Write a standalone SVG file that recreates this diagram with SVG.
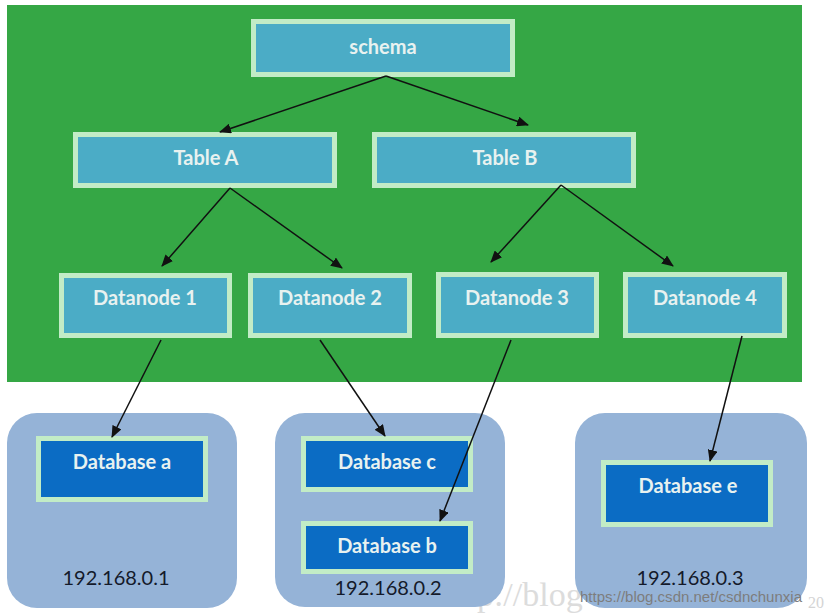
<svg xmlns="http://www.w3.org/2000/svg" width="825" height="615" viewBox="0 0 825 615">
<defs>
<style>
.top{fill:#4bacc6;stroke:#c2ecc6;stroke-width:5}
.db{fill:#0b6cc4;stroke:#c2ecc6;stroke-width:5}
.grp{fill:#95b3d7}
.lbl{font-family:Lato,"Open Sans","Liberation Sans",sans-serif;font-weight:bold;font-size:20px;fill:#e8f2f0;text-anchor:middle}
.ip{font-family:Lato,"Open Sans","Liberation Sans",sans-serif;font-size:20px;fill:#141a2a;text-anchor:middle}
.conn line{stroke:#111;stroke-width:1.5;marker-end:url(#ah)}
</style>
<marker id="ah" viewBox="0 0 12 10" refX="11" refY="5" markerWidth="12" markerHeight="10" markerUnits="userSpaceOnUse" orient="auto">
<path d="M0,0 L12,5 L0,10 z" fill="#111"/>
</marker>
</defs>
<rect width="825" height="615" fill="#ffffff"/>
<text x="441" y="606" font-family="'Liberation Serif',serif" font-size="34" fill="#dcdcdc">http://blog</text>
<text x="808" y="608" font-family="'Liberation Serif',serif" font-size="16" fill="#d4d4d4">20</text>
<rect x="7" y="5" width="795" height="377" fill="#35a745"/>
<g id="group1"><rect class="grp" x="7" y="413" width="230" height="195" rx="30"/><text class="ip" x="116" y="585">192.168.0.1</text></g>
<g id="group2"><rect class="grp" x="275" y="413" width="230" height="194" rx="30"/><text class="ip" x="388" y="595">192.168.0.2</text></g>
<g id="group3"><rect class="grp" x="575" y="413" width="232" height="195" rx="30"/><text class="ip" x="690" y="585">192.168.0.3</text></g>
<g id="schema"><rect class="top" x="253.5" y="21.5" width="259" height="53"/><text class="lbl" x="383" y="54">schema</text></g>
<g id="tableA"><rect class="top" x="75.5" y="134.5" width="259" height="51"/><text class="lbl" x="206" y="165">Table A</text></g>
<g id="tableB"><rect class="top" x="374.5" y="134.5" width="259" height="51"/><text class="lbl" x="505" y="165">Table B</text></g>
<g id="datanode1"><rect class="top" x="61.5" y="275.5" width="168" height="60"/><text class="lbl" x="145" y="305">Datanode 1</text></g>
<g id="datanode2"><rect class="top" x="250.5" y="275.5" width="159" height="60"/><text class="lbl" x="330" y="305">Datanode 2</text></g>
<g id="datanode3"><rect class="top" x="438.5" y="274.5" width="158" height="61"/><text class="lbl" x="517" y="305">Datanode 3</text></g>
<g id="datanode4"><rect class="top" x="625.5" y="274.5" width="159" height="61"/><text class="lbl" x="705" y="305">Datanode 4</text></g>
<g id="databaseA"><rect class="db" x="38.5" y="438.5" width="167" height="61"/><text class="lbl" x="122" y="469">Database a</text></g>
<g id="databaseC"><rect class="db" x="303.5" y="438.5" width="167" height="51"/><text class="lbl" x="387" y="469">Database c</text></g>
<g id="databaseB"><rect class="db" x="303.5" y="523.5" width="167" height="48"/><text class="lbl" x="387" y="553">Database b</text></g>
<g id="databaseE"><rect class="db" x="603.5" y="462.5" width="167" height="62"/><text class="lbl" x="688" y="493">Database e</text></g>
<g id="connectors" class="conn">
<line x1="386" y1="76" x2="220" y2="132"/>
<line x1="386" y1="76" x2="528" y2="125"/>
<line x1="230" y1="188" x2="162" y2="266"/>
<line x1="230" y1="188" x2="342" y2="268"/>
<line x1="561" y1="185" x2="491" y2="262"/>
<line x1="561" y1="185" x2="673" y2="266"/>
<line x1="161" y1="340" x2="112" y2="437"/>
<line x1="320" y1="340" x2="385" y2="436"/>
<line x1="511" y1="340" x2="440" y2="521"/>
<line x1="742" y1="336" x2="710" y2="461"/>
</g>
<text x="580" y="602" font-family="'Liberation Sans',Arial,sans-serif" font-size="14.5" fill="#7d7d7d" textLength="222" lengthAdjust="spacingAndGlyphs">https://blog.csdn.net/csdnchunxia</text>
</svg>
